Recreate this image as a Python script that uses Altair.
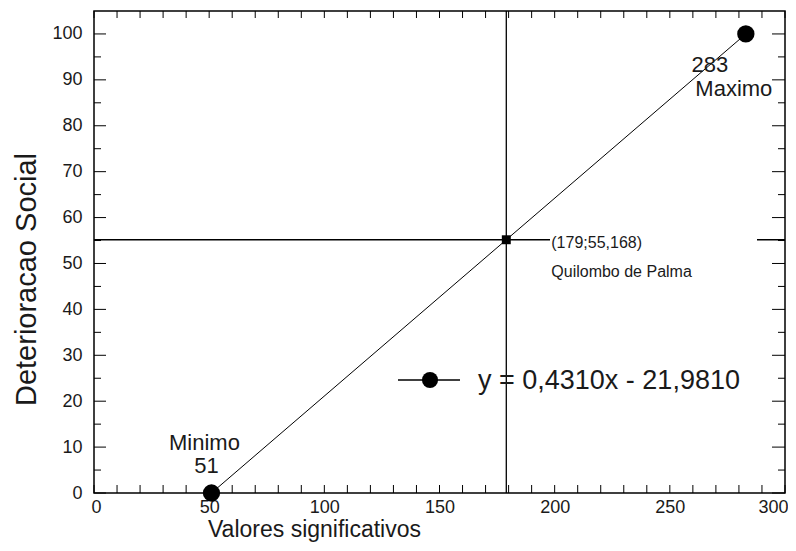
import altair as alt
import pandas as pd

# ---- data ----
x_pts = [51, 179, 283]
y_pts = [0, 55.168, 100]
x_ticks = list(range(0, 301, 10))
x_labels = list(range(0, 301, 50))
y_major = list(range(0, 101, 10))
y_minor = list(range(5, 101, 10))
eq_text = ["y = 0,4310x - 21,9810"]
min_labels = ["Minimo", "51"]
max_labels = ["283", "Maximo"]
cross_labels = ["(179;55,168)", "Quilombo de Palma"]

FONT = "Liberation Sans"
INK = "#1a1a1a"
W, H = 691, 482

xs = alt.Scale(domain=[0, 300], nice=False, zero=False)
ys = alt.Scale(domain=[0, 105], nice=False, zero=False)

XA = alt.Axis(
    values=x_labels, title="Valores significativos", ticks=False, domain=False,
    grid=False, labelFont=FONT, labelFontSize=18, labelColor=INK, labelPadding=5,
    labelFlush=True, labelFlushOffset=3, titleFont=FONT, titleFontSize=23,
    titleFontWeight="normal", titleColor=INK, titleX=220, titleY=43,
    titleAlign="center", titleBaseline="alphabetic")
YA = alt.Axis(
    values=y_major, title="Deterioracao Social", ticks=False, domain=False,
    grid=False, labelFont=FONT, labelFontSize=18, labelColor=INK, labelPadding=12,
    labelFlush=False, titleFont=FONT, titleFontSize=29, titleFontWeight="normal",
    titleColor=INK, titleX=-59, titleY=268, titleAlign="center",
    titleBaseline="alphabetic", titleAngle=-90)

XN = lambda f: alt.X(f, scale=xs, axis=XA)
YN = lambda f: alt.Y(f, scale=ys, axis=YA)

pts = pd.DataFrame({"x": x_pts, "y": y_pts})

line = alt.Chart(pts).mark_line(color="black", strokeWidth=1).encode(
    x=XN("x:Q"), y=YN("y:Q"))

xt = pd.DataFrame({"t": x_ticks})
ymj = pd.DataFrame({"t": y_major})
ymn = pd.DataFrame({"t": y_minor})

bottom_ticks = alt.Chart(xt).mark_rule(color="black").encode(
    x=XN("t:Q"), y=alt.value(H), y2=alt.value(H - 8))
top_ticks = alt.Chart(xt).mark_rule(color="black").encode(
    x=XN("t:Q"), y=alt.value(0), y2=alt.value(7))
left_major = alt.Chart(ymj).mark_rule(color="black").encode(
    y=YN("t:Q"), x=alt.value(0), x2=alt.value(12))
left_minor = alt.Chart(ymn).mark_rule(color="black").encode(
    y=YN("t:Q"), x=alt.value(0), x2=alt.value(7))
right_major = alt.Chart(ymj).mark_rule(color="black").encode(
    y=YN("t:Q"), x=alt.value(W), x2=alt.value(W - 13))
right_minor = alt.Chart(ymn).mark_rule(color="black").encode(
    y=YN("t:Q"), x=alt.value(W), x2=alt.value(W - 7))

cross = pts.iloc[[1]]
vrule = alt.Chart(cross).mark_rule(color="black", strokeWidth=1.3).encode(x=XN("x:Q"))
hrule = alt.Chart(cross).mark_rule(color="black", strokeWidth=1.3).encode(y=YN("y:Q"))

label_box = alt.Chart(cross).mark_rect(color="white").encode(
    x=alt.value(456), x2=alt.value(663), y=alt.value(214), y2=alt.value(274))

ends = pts.iloc[[0, 2]]
dots = alt.Chart(ends).mark_point(filled=True, color="black", opacity=1, size=300).encode(
    x=XN("x:Q"), y=YN("y:Q"))
square = alt.Chart(cross).mark_square(color="black", opacity=1, size=80).encode(
    x=XN("x:Q"), y=YN("y:Q"))

def txt(df_row, text, dx, dy, size, align="center"):
    d = df_row.copy()
    d["label"] = text
    return alt.Chart(d).mark_text(font=FONT, fontSize=size, color=INK, dx=dx, dy=dy,
                                  align=align, baseline="middle").encode(
        x=XN("x:Q"), y=YN("y:Q"), text="label:N")

p_min = pts.iloc[[0]]
p_max = pts.iloc[[2]]
texts = [
    txt(p_min, min_labels[0], -7, -50, 22),
    txt(p_min, min_labels[1], -5, -27, 22),
    txt(p_max, max_labels[0], -36, 31, 22),
    txt(p_max, max_labels[1], -12, 55, 22),
    txt(cross, cross_labels[0], 45, 3, 16, "left"),
    txt(cross, cross_labels[1], 45, 32, 16, "left"),
]

leg = pd.DataFrame({"label": eq_text})
leg_line = alt.Chart(leg).mark_rule(color="black", strokeWidth=1.3).encode(
    x=alt.value(304), x2=alt.value(366), y=alt.value(369))
leg_dot = alt.Chart(leg).mark_point(filled=True, color="black", opacity=1, size=260).encode(
    x=alt.value(336), y=alt.value(369))
leg_text = alt.Chart(leg).mark_text(font=FONT, fontSize=27, color=INK, align="left",
                                    baseline="middle").encode(
    x=alt.value(384), y=alt.value(370), text="label:N")

chart = alt.layer(
    line, bottom_ticks, top_ticks, left_major, left_minor, right_major, right_minor,
    vrule, hrule, label_box, *texts, dots, square, leg_line, leg_dot, leg_text,
).properties(
    width=W, height=H,
    autosize=alt.AutoSizeParams(type="none"),
    padding={"left": 86, "top": 3, "right": 3, "bottom": 50},
    background="white",
).configure_view(stroke="black", strokeWidth=1.5)

chart.save("out.html", embed_options={"renderer": "svg", "actions": False})
